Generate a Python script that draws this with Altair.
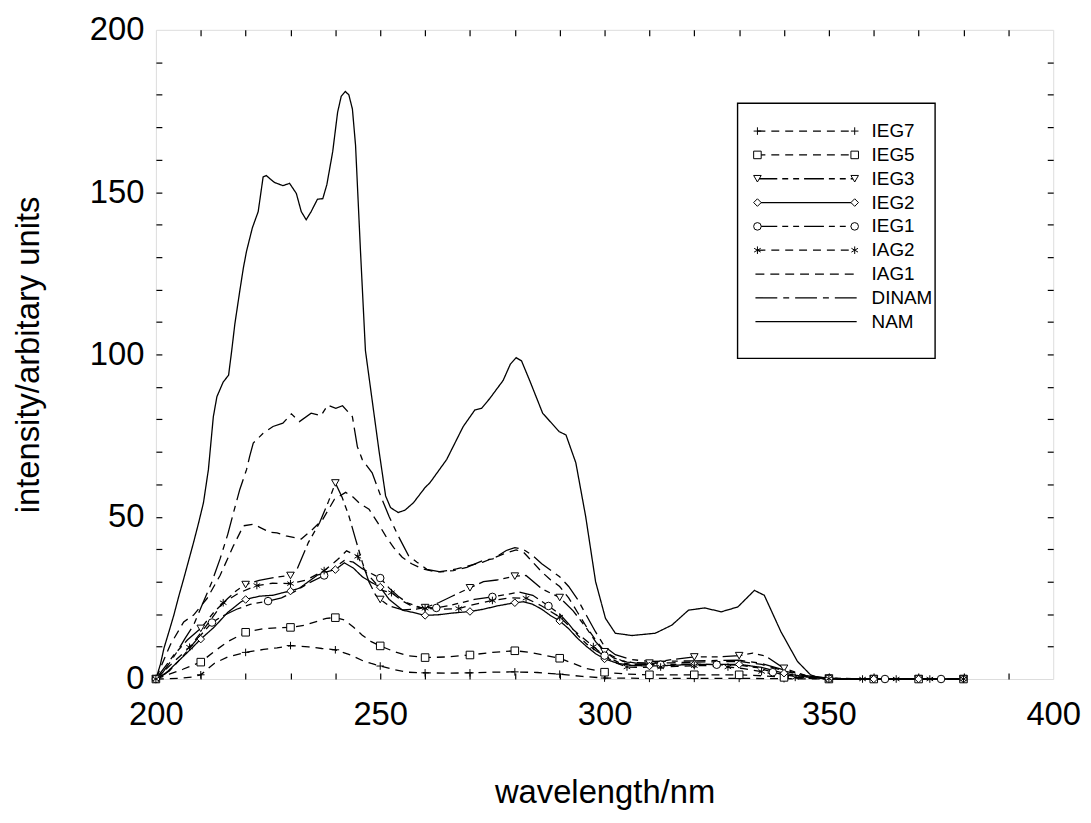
import altair as alt
import pandas as pd

# ---------------- data ----------------
SERIES = ["IEG7", "IEG5", "IEG3", "IEG2", "IEG1", "IAG2", "IAG1", "DINAM", "NAM"]

wl_IEG7 = [200, 205, 208, 210, 213, 216, 220, 224, 227, 230, 234, 237, 240, 243, 246, 248, 250, 253, 256,
           260, 265, 270, 275, 280, 285, 290, 295, 300, 310, 320, 330, 340, 350, 360, 370, 380]
val_IEG7 = [0, 0.2, 0.6, 1.3, 4.8, 6.8, 8.2, 9.1, 9.6, 10.3, 9.9, 9.4, 9.0, 7.6, 5.7, 4.8, 4.0, 2.9, 2.1,
            1.9, 1.8, 1.9, 2.1, 2.2, 2.0, 1.5, 0.8, 0.3, 0.2, 0.2, 0.2, 0.1, 0, 0, 0, 0]

wl_IEG5 = [200, 203, 206, 210, 213, 216, 220, 224, 227, 230, 233, 236, 238, 240, 242, 244, 246, 248, 250,
           253, 256, 260, 265, 270, 275, 280, 283, 286, 290, 293, 296, 300, 305, 310, 320, 330, 335, 340,
           345, 350, 360, 370, 380]
val_IEG5 = [0, 1.5, 3.0, 5.2, 8.5, 11.5, 14.4, 15.5, 15.8, 15.9, 16.5, 17.8, 18.7, 18.9, 18.2, 16.0, 13.5,
            11.5, 10.2, 8.5, 7.2, 6.6, 6.8, 7.4, 8.2, 8.7, 8.3, 7.5, 6.4, 4.8, 3.2, 2.1, 1.5, 1.3, 1.3, 1.3,
            1.0, 0.5, 0.2, 0, 0, 0, 0]

wl_IEG3 = [200, 204, 207, 210, 213, 216, 218, 220, 223, 227, 230, 231.5, 234, 236.5, 238.5, 240, 241.5,
           243, 244.5, 246, 247.5, 249, 250, 252, 255, 258, 260, 263, 266, 270, 273, 276, 280, 282.5, 286,
           290, 293, 296, 298, 300, 304, 307, 310, 315, 320, 325, 330, 333, 336, 340, 345, 350, 360, 370, 380]
val_IEG3 = [0, 7.4, 12.0, 15.6, 20.7, 24.8, 27.3, 29.1, 30.4, 31.4, 31.9, 33.9, 42.1, 48.2, 54.8, 60.4, 56.0,
            50.3, 43.1, 36.0, 29.9, 25.8, 24.5, 22.5, 21.3, 21.5, 22.0, 23.5, 25.5, 28.1, 30.0, 30.5, 31.7,
            31.9, 27.8, 25.1, 21.0, 15.6, 11.5, 8.4, 5.5, 4.9, 4.9, 6.0, 6.8, 6.8, 7.2, 8.0, 7.0, 3.3, 1.0,
            0.3, 0, 0, 0]

wl_IEG2 = [200, 202, 205, 208, 210, 213, 216, 219, 220, 223, 226, 228, 230, 232, 234, 236, 238, 240, 242,
           244, 246, 248, 250, 252, 255, 258, 260, 263, 266, 270, 273, 276, 280, 282, 284, 286, 288, 290,
           292, 294, 296, 298, 300, 303, 306, 310, 315, 320, 325, 330, 335, 340, 345, 350, 360, 370, 380]
val_IEG2 = [0, 1.5, 5.5, 9.5, 12.3, 16.0, 20.5, 23.8, 24.5, 25.5, 25.8, 26.5, 27.1, 28.0, 30.0, 32.0, 33.0,
            33.7, 35.8, 34.2, 31.5, 29.8, 28.3, 24.5, 21.2, 20.3, 19.6, 19.8, 20.3, 20.8, 21.5, 22.5, 23.5,
            23.8, 23.0, 21.5, 19.5, 17.9, 15.5, 12.5, 10.0, 7.8, 6.2, 4.8, 4.2, 4.0, 4.2, 4.5, 4.5, 4.5, 3.6,
            1.8, 0.6, 0.1, 0, 0, 0]

wl_IEG1 = [200, 203, 206, 209, 212.5, 215, 218, 221, 225, 228, 231, 234, 237.5, 240, 242, 244, 246, 248,
           250, 252, 254, 256, 259, 262.5, 265, 268, 271, 275, 278, 281, 284, 287.5, 290, 292, 294, 296, 298,
           300, 303, 306, 310, 312.5, 315, 320, 325, 330, 334, 337.5, 340, 345, 350, 362.5, 375, 380]
val_IEG1 = [0, 2.5, 7.0, 12.0, 17.4, 19.5, 21.5, 23.0, 24.0, 25.0, 27.0, 29.5, 31.9, 34.5, 36.5, 36.0, 34.0,
            32.5, 31.1, 28.0, 25.5, 23.5, 22.0, 21.9, 22.5, 23.5, 24.5, 25.3, 26.0, 26.8, 25.8, 22.5, 20.0,
            17.0, 13.5, 10.8, 8.8, 7.2, 5.2, 4.5, 4.4, 4.4, 4.5, 4.6, 4.4, 4.3, 3.5, 2.1, 1.3, 0.4, 0.1, 0,
            0, 0]

wl_IAG2 = [200, 203, 207.5, 211, 215, 218.5, 222.5, 226, 230, 233.5, 237.5, 240.5, 242.5, 245, 246.8,
           250.4, 252.5, 255, 257, 260, 263, 267.5, 271, 275, 279, 282.5, 286, 290, 292, 294, 297.5, 300,
           302.5, 305, 308, 312.5, 316, 320, 323.5, 327.5, 331, 335, 338, 342.5, 346, 350, 357.5, 365,
           372.5, 380]
val_IAG2 = [0, 4.0, 9.8, 16.0, 23.5, 26.5, 28.8, 29.5, 29.4, 30.5, 33.4, 36.8, 39.5, 37.8, 32.9, 27.3, 26.6,
            24.0, 22.5, 21.8, 21.5, 21.7, 23.0, 24.2, 25.0, 24.9, 22.5, 19.1, 16.5, 14.0, 10.0, 7.0, 5.0,
            3.7, 3.6, 3.7, 3.9, 4.1, 4.1, 3.7, 3.2, 2.3, 1.4, 0.5, 0.2, 0.1, 0, 0, 0, 0]

wl_IAG1 = [200, 201.5, 203.2, 206.2, 208.4, 211.4, 214.3, 217.3, 219.5, 221.7, 223.5, 225.4, 227, 229,
           232.4, 235, 237.2, 239.8, 242.3, 244, 245.5, 247.5, 249.5, 251.2, 253, 254.9, 257, 259.3, 262.6,
           267, 272.9, 277.4, 280.3, 282, 284, 286, 288, 290, 292, 294, 296, 298, 300, 302, 305, 310, 315,
           320, 325, 330, 335, 340, 345, 350, 360, 380]
val_IAG1 = [0, 5.0, 10.5, 17.6, 19.7, 24.8, 31.9, 41.1, 47.2, 47.7, 46.5, 45.2, 45.0, 44.1, 43.1, 46.2,
            49.2, 55.4, 57.5, 56.0, 54.0, 52.3, 48.0, 44.1, 40.5, 37.5, 35.5, 34.0, 32.9, 33.9, 36.0, 38.5,
            39.8, 39.0, 36.0, 33.0, 30.5, 28.5, 25.0, 20.5, 16.0, 12.0, 8.5, 6.5, 5.2, 4.8, 5.0, 5.2, 5.3,
            5.4, 4.5, 2.5, 0.8, 0.2, 0, 0]

wl_DINAM = [200, 201.5, 203.3, 205, 206.5, 208.4, 210.6, 212.5, 214.3, 216, 217.3, 218.7, 220.2, 220.9,
            221.7, 223.9, 226.1, 228.3, 230.2, 232, 234.6, 236.8, 238.3, 240.1, 241.6, 243.8, 244.9, 246,
            248.2, 250.1, 252, 254, 256.3, 258.2, 260.4, 263.4, 266.3, 269.3, 272.9, 275.1, 278.1, 280,
            281.8, 284, 286, 288, 290, 292, 294, 296, 298, 300, 302.4, 306, 310, 315, 320, 325, 330, 335,
            340, 345, 350, 360, 380]
val_DINAM = [0, 2.0, 5.4, 9.0, 12.5, 16.6, 23.8, 30.0, 37.0, 44.5, 51.3, 58.4, 64.5, 68.6, 72.7, 75.7, 77.8,
             78.8, 81.7, 79.3, 81.9, 81.1, 84.4, 83.4, 84.2, 80.8, 71.6, 67.6, 63.5, 56.4, 50.0, 44.1, 38.0,
             36.0, 33.8, 33.0, 33.4, 34.4, 36.5, 37.0, 39.6, 40.5, 40.0, 38.0, 35.5, 33.5, 31.5, 28.5, 24.5,
             19.5, 14.5, 10.0, 7.5, 6.0, 5.4, 5.5, 5.6, 5.7, 5.8, 4.8, 2.8, 1.0, 0.2, 0, 0]

wl_NAM = [200, 201, 201.8, 203, 204, 205.1, 206.2, 207.3, 208.4, 209.5, 210.6, 211.7, 212.8, 213.6, 215,
          216.2, 216.9, 217.6, 218.7, 219.5, 220.2, 221.5, 222.8, 223.9, 224.6, 226.4, 228.3, 229.8, 231.3,
          232.4, 233.5, 234.6, 236, 237.2, 238.1, 239.4, 240.5, 241.3, 242.2, 243, 243.8, 244.5, 245.6,
          246.7, 248.2, 249.7, 251.2, 252.3, 254, 255.5, 257.4, 260, 261.1, 264.8, 268.5, 271.1, 272.6,
          274.4, 277.4, 279, 280.3, 281.5, 283.3, 286.2, 289.9, 291.4, 293.6, 295.8, 298, 300.2, 302.4,
          306.1, 311.3, 315, 318.7, 322.3, 326, 329.7, 333.4, 335.6, 339.3, 343, 345.9, 348, 350, 360, 380]
val_NAM = [0, 4.5, 9.5, 15.0, 19.7, 25.5, 30.9, 36.5, 42.1, 48.0, 54.3, 64.5, 80.8, 87.0, 91.5, 93.6, 101.2,
           109.4, 119.6, 126.7, 131.8, 139.0, 144.0, 154.7, 155.1, 153.0, 152.0, 152.7, 149.6, 144.0, 141.5,
           144.0, 147.8, 148.0, 152.3, 162.4, 174.6, 179.5, 181.0, 180.0, 175.6, 164.4, 131.8, 101.2, 85.9,
           70.6, 56.4, 52.8, 51.3, 52.0, 54.3, 59.0, 60.5, 67.6, 77.8, 82.9, 83.4, 86.4, 92.0, 97.0, 99.0,
           98.0, 92.0, 81.9, 76.2, 75.2, 66.6, 50.0, 30.0, 18.7, 14.1, 13.4, 14.1, 16.6, 21.2, 21.9, 20.7,
           22.2, 27.3, 25.8, 14.6, 5.4, 1.3, 0.3, 0, 0, 0]

SERIES_DATA = {
    "IEG7": (wl_IEG7, val_IEG7), "IEG5": (wl_IEG5, val_IEG5), "IEG3": (wl_IEG3, val_IEG3),
    "IEG2": (wl_IEG2, val_IEG2), "IEG1": (wl_IEG1, val_IEG1), "IAG2": (wl_IAG2, val_IAG2),
    "IAG1": (wl_IAG1, val_IAG1), "DINAM": (wl_DINAM, val_DINAM), "NAM": (wl_NAM, val_NAM),
}
MARKER_STEP = {"IEG7": 10, "IEG5": 10, "IEG3": 10, "IEG2": 10, "IEG1": 12.5, "IAG2": 7.5}

X_TICK_LABELS = [200, 250, 300, 350, 400]
Y_TICK_LABELS = [0, 50, 100, 150, 200]

# ---------------- styles ----------------
DASHES = [[8, 6], [8, 6], [20, 5, 6, 5, 6, 5], [1, 0], [20, 5, 6, 5, 6, 5],
          [8, 6], [9, 6], [22, 6, 6, 6], [1, 0]]
MARKED = ["IEG7", "IEG5", "IEG3", "IEG2", "IEG1", "IAG2"]
SHAPES = ["M-1,0L1,0M0,-1L0,1", "square", "triangle-down", "diamond", "circle",
          "M0,-1L0,1M-0.87,-0.5L0.87,0.5M-0.87,0.5L0.87,-0.5"]

FONT = "Liberation Sans"
W, H = 904, 654
LEFT, TOP = 157, 27  # page pixel position of the plot area

rows = []
for name in SERIES:
    wl, val = SERIES_DATA[name]
    for a, b in zip(wl, val):
        rows.append({"series": name, "wl": a, "val": b})
df = pd.DataFrame(rows)

mk_rows = []
for name, step in MARKER_STEP.items():
    wl, val = SERIES_DATA[name]
    for a, b in zip(wl, val):
        k = (a - 200) / step
        if abs(k - round(k)) < 1e-6 and a <= 380:
            mk_rows.append({"series": name, "wl": a, "val": b})
mk = pd.DataFrame(mk_rows)


def to_wl(px):
    return 200 + (px - LEFT) * 200.0 / W


def to_val(py):
    return (TOP + H - py) * 200.0 / H


X_SCALE = alt.Scale(domain=[200, 400], nice=False, zero=False)
Y_SCALE = alt.Scale(domain=[0, 200], nice=False, zero=False)
DASH_SCALE = alt.Scale(domain=SERIES, range=DASHES)
SHAPE_SCALE = alt.Scale(domain=MARKED, range=SHAPES)

x_main = alt.X("wl:Q", scale=X_SCALE, axis=alt.Axis(
    orient="bottom", values=X_TICK_LABELS, title="wavelength/nm", format="d",
    labelFontSize=33, titleFontSize=33, labelFont=FONT, titleFont=FONT,
    ticks=False, tickSize=0, domain=False, grid=False, labelPadding=20, labelFlush=False,
    labelColor="black", titleColor="black", titleFontWeight="normal",
    titleY=124, titleBaseline="alphabetic"))
y_main = alt.Y("val:Q", scale=Y_SCALE, axis=alt.Axis(
    orient="left", values=Y_TICK_LABELS, title="intensity/arbitary units", format="d",
    labelFontSize=33, titleFontSize=33, labelFont=FONT, titleFont=FONT,
    ticks=False, tickSize=0, domain=False, grid=False, labelPadding=12, labelFlush=False,
    labelColor="black", titleColor="black", titleFontWeight="normal",
    titleX=-128, titleY=H / 2, titleAngle=270, titleBaseline="middle", titleAlign="center"))

lines = alt.Chart(df).mark_line(color="black", strokeWidth=1.3).encode(
    x=x_main, y=y_main,
    strokeDash=alt.StrokeDash("series:N", scale=DASH_SCALE, legend=None),
    detail="series:N",
)

MK_SIZE = 58
points = alt.Chart(mk).mark_point(size=MK_SIZE, strokeWidth=1, stroke="black", fill="white",
                                  fillOpacity=1, opacity=1).encode(
    x=alt.X("wl:Q", scale=X_SCALE, axis=None),
    y=alt.Y("val:Q", scale=Y_SCALE, axis=None),
    shape=alt.Shape("series:N", scale=SHAPE_SCALE, legend=None),
)

XT = list(range(210, 400, 10))
YT = list(range(10, 200, 10))


def tick_layer(xorient, yorient):
    return alt.Chart(df).mark_point(opacity=0).encode(
        x=alt.X("wl:Q", scale=X_SCALE, axis=alt.Axis(
            orient=xorient, offset=-H, values=XT, labels=False, domain=False, grid=False,
            ticks=True, tickSize=6, tickColor="black", tickWidth=1.2, title=None)),
        y=alt.Y("val:Q", scale=Y_SCALE, axis=alt.Axis(
            orient=yorient, offset=-W, values=YT, labels=False, domain=False, grid=False,
            ticks=True, tickSize=6, tickColor="black", tickWidth=1.2, title=None)),
    )


ticks_a = tick_layer("top", "right")
ticks_b = tick_layer("bottom", "left")

# ---------------- legend (drawn inside the plot) ----------------
BOX = (743, 942, 101, 358)
ROW0, ROWSTEP = 129, 24.0
LX0, LX1, TX = 763, 861, 878

box_df = pd.DataFrame([{"x": to_wl(BOX[0]), "x2": to_wl(BOX[1]),
                        "y": to_val(BOX[2]), "y2": to_val(BOX[3])}])
leg_line_rows, leg_mk_rows, leg_txt_rows = [], [], []
for i, name in enumerate(SERIES):
    yy = to_val(ROW0 + ROWSTEP * i)
    x0, x1 = (LX0, LX1) if name in MARKED else (LX0 - 2, LX1 + 2)
    leg_line_rows += [{"series": name, "wl": to_wl(x0), "val": yy},
                      {"series": name, "wl": to_wl(x1), "val": yy}]
    if name in MARKED:
        leg_mk_rows += [{"series": name, "wl": to_wl(LX0), "val": yy},
                        {"series": name, "wl": to_wl(LX1), "val": yy}]
    leg_txt_rows.append({"series": name, "wl": to_wl(TX), "val": yy})

box = alt.Chart(box_df).mark_rect(fill="white", stroke="black", strokeWidth=1.4).encode(
    x=alt.X("x:Q", scale=X_SCALE, axis=None), x2="x2:Q",
    y=alt.Y("y:Q", scale=Y_SCALE, axis=None), y2="y2:Q",
)
leg_lines = alt.Chart(pd.DataFrame(leg_line_rows)).mark_line(color="black", strokeWidth=1.3).encode(
    x=alt.X("wl:Q", scale=X_SCALE, axis=None),
    y=alt.Y("val:Q", scale=Y_SCALE, axis=None),
    strokeDash=alt.StrokeDash("series:N", scale=DASH_SCALE, legend=None),
    detail="series:N",
)
leg_pts = alt.Chart(pd.DataFrame(leg_mk_rows)).mark_point(size=MK_SIZE, strokeWidth=1, stroke="black",
                                                         fill="white", fillOpacity=1, opacity=1).encode(
    x=alt.X("wl:Q", scale=X_SCALE, axis=None),
    y=alt.Y("val:Q", scale=Y_SCALE, axis=None),
    shape=alt.Shape("series:N", scale=SHAPE_SCALE, legend=None),
)
leg_txt = alt.Chart(pd.DataFrame(leg_txt_rows)).mark_text(
    align="left", baseline="middle", font=FONT, fontSize=19, color="black").encode(
    x=alt.X("wl:Q", scale=X_SCALE, axis=None),
    y=alt.Y("val:Q", scale=Y_SCALE, axis=None),
    text="series:N",
)

chart = alt.layer(lines, points, ticks_a, ticks_b, box, leg_lines, leg_pts, leg_txt).resolve_axis(
    x="independent", y="independent"
).properties(
    width=W, height=H,
    autosize=alt.AutoSizeParams(type="none"),
    padding={"left": LEFT - 8, "top": TOP - 8, "right": 30, "bottom": 134},
).configure_view(stroke="black", strokeWidth=1.8).configure(font=FONT)

chart.save("out.html", embed_options={"renderer": "svg", "actions": False})
